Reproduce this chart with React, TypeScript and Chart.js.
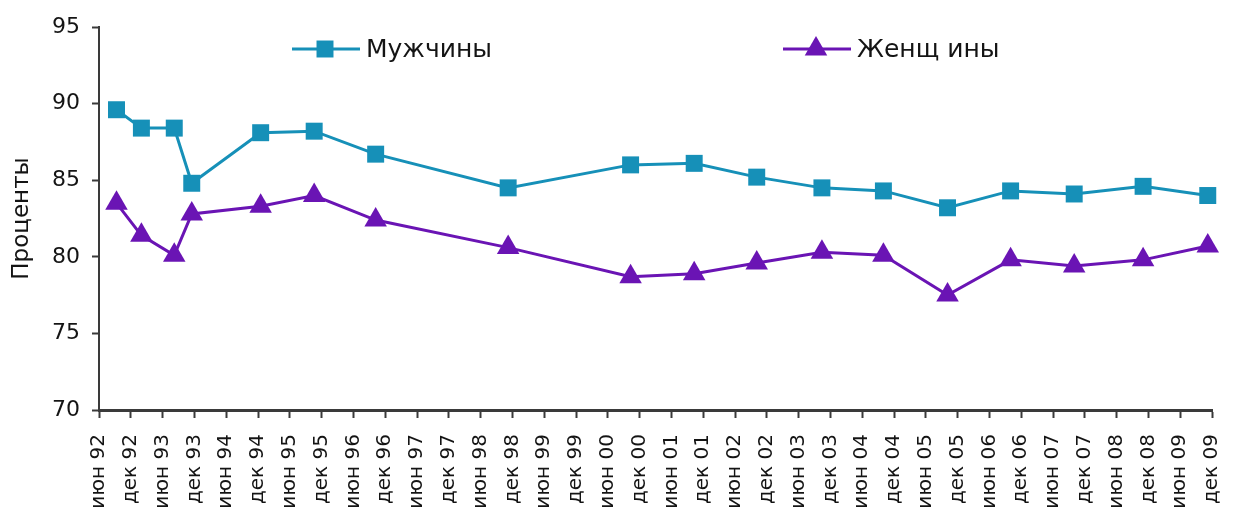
import React, { useEffect, useRef } from 'react';
import { Chart, registerables } from 'chart.js';

Chart.register(...registerables);

// Half-year tick labels on the time axis (every 6 months, June 1992 .. December 2009)
const tickLabels = [
  'июн 92', 'дек 92', 'июн 93', 'дек 93', 'июн 94', 'дек 94', 'июн 95', 'дек 95',
  'июн 96', 'дек 96', 'июн 97', 'дек 97', 'июн 98', 'дек 98', 'июн 99', 'дек 99',
  'июн 00', 'дек 00', 'июн 01', 'дек 01', 'июн 02', 'дек 02', 'июн 03', 'дек 03',
  'июн 04', 'дек 04', 'июн 05', 'дек 05', 'июн 06', 'дек 06', 'июн 07', 'дек 07',
  'июн 08', 'дек 08', 'июн 09', 'дек 09',
];

// Survey dates, in months counted from June 1992
const surveyMonths = [3.3, 8, 14.2, 17.5, 30.5, 40.6, 52.2, 77.2, 100.3, 112.3, 124.1, 136.4, 148, 160.1, 172, 184, 197, 209.2];

const menValues = [89.6, 88.4, 88.4, 84.8, 88.1, 88.2, 86.7, 84.5, 86.0, 86.1, 85.2, 84.5, 84.3, 83.2, 84.3, 84.1, 84.6, 84.0];
const womenValues = [83.5, 81.4, 80.1, 82.8, 83.3, 84.0, 82.4, 80.6, 78.7, 78.9, 79.6, 80.3, 80.1, 77.5, 79.8, 79.4, 79.8, 80.7];

const seriesNames = ['Мужчины', 'Женщ ины'];
const seriesColors = ['#1690B8', '#6A14B4'];
const seriesMarkers = ['rect', 'triangle'];

const yAxisTitle = 'Проценты';
const FONT = "'DejaVu Sans', sans-serif";
const TEXT = '#141414';
const AXIS = '#3a3a3a';

const legendPlugin = {
  id: 'excelLegend',
  afterDraw(chart: any) {
    const { ctx, chartArea } = chart;
    const starts = [193, 684];
    const y = chartArea.top + 22;
    ctx.save();
    chart.data.datasets.forEach((ds: any, i: number) => {
      const x0 = chartArea.left + starts[i];
      ctx.strokeStyle = ds.borderColor;
      ctx.lineWidth = 3;
      ctx.beginPath();
      ctx.moveTo(x0, y);
      ctx.lineTo(x0 + 68, y);
      ctx.stroke();
      const cx = x0 + 33;
      ctx.fillStyle = ds.borderColor;
      ctx.beginPath();
      if (ds.pointStyle === 'rect') {
        const s = ds.pointRadius * Math.SQRT1_2;
        ctx.rect(cx - s, y - s, 2 * s, 2 * s);
      } else {
        const r = ds.pointRadius;
        ctx.moveTo(cx, y - r);
        ctx.lineTo(cx + r * Math.sin((2 * Math.PI) / 3), y - r * Math.cos((2 * Math.PI) / 3));
        ctx.lineTo(cx + r * Math.sin((4 * Math.PI) / 3), y - r * Math.cos((4 * Math.PI) / 3));
        ctx.closePath();
      }
      ctx.fill();
      ctx.fillStyle = TEXT;
      ctx.font = `25px ${FONT}`;
      ctx.textBaseline = 'middle';
      ctx.textAlign = 'left';
      ctx.fillText(ds.label, x0 + 74, y + 1);
    });
    ctx.restore();
  },
};

export default function App() {
  const ref = useRef<HTMLCanvasElement>(null);

  useEffect(() => {
    if (!ref.current) return;
    const chart = new Chart(ref.current, {
      type: 'line',
      data: {
        datasets: [menValues, womenValues].map((vals, i) => ({
          label: seriesNames[i],
          data: surveyMonths.map((m, j) => ({ x: m, y: vals[j] })),
          borderColor: seriesColors[i],
          backgroundColor: seriesColors[i],
          borderWidth: 3,
          pointStyle: seriesMarkers[i],
          pointRadius: i === 0 ? 12 : 13,
          pointBorderWidth: 0,
          pointBackgroundColor: seriesColors[i],
          tension: 0,
          clip: false as any,
        })),
      },
      options: {
        responsive: false,
        maintainAspectRatio: false,
        animation: false,
        devicePixelRatio: 1,
        layout: { padding: { top: 27, right: 22, bottom: 0, left: 0 } },
        plugins: { legend: { display: false }, tooltip: { enabled: false } },
        scales: {
          x: {
            type: 'linear',
            min: 0,
            max: (tickLabels.length - 1) * 6,
            afterBuildTicks: (scale: any) => {
              scale.ticks = tickLabels.map((_, i) => ({ value: i * 6 }));
            },
            afterFit: (scale: any) => {
              scale.height = 108;
              scale.paddingLeft = 0;
              scale.paddingRight = 0;
            },
            ticks: {
              autoSkip: false,
              minRotation: 90,
              maxRotation: 90,
              padding: 16,
              color: TEXT,
              font: { family: FONT, size: 20 },
              callback: (v: any) => tickLabels[Math.round(Number(v) / 6)],
            },
            grid: {
              drawOnChartArea: false,
              drawTicks: true,
              tickLength: 8,
              tickWidth: 2,
              tickColor: AXIS,
            },
            border: { color: AXIS, width: 3 },
          },
          y: {
            min: 70,
            max: 95,
            afterFit: (scale: any) => {
              scale.width = 99;
            },
            ticks: {
              stepSize: 5,
              padding: 12,
              color: TEXT,
              font: { family: FONT, size: 22 },
            },
            grid: {
              drawOnChartArea: false,
              drawTicks: true,
              tickLength: 7,
              tickWidth: 2,
              tickColor: AXIS,
            },
            border: { color: AXIS, width: 2 },
            title: {
              display: true,
              text: yAxisTitle,
              color: TEXT,
              font: { family: FONT, size: 23 },
              padding: { top: 8, bottom: 0 },
            },
          },
        },
      },
      plugins: [legendPlugin],
    } as any);
    return () => chart.destroy();
  }, []);

  return (
    <div style={{ position: 'absolute', left: 0, top: 0, width: 1234, height: 518, background: '#fff' }}>
      <canvas ref={ref} width={1234} height={518} />
    </div>
  );
}
